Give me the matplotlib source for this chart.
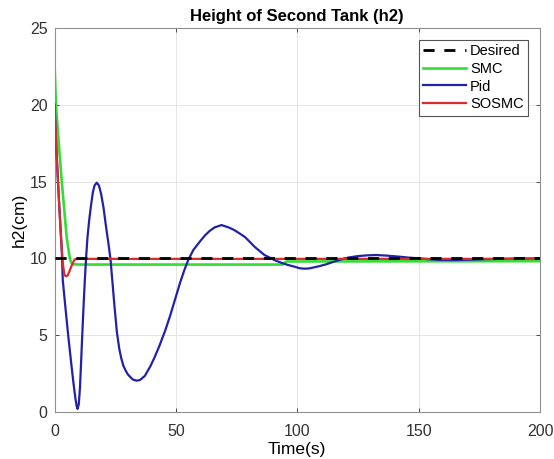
import matplotlib
matplotlib.use("Agg")
import matplotlib.pyplot as plt

# ---- data ----
t_des = [0, 200]
h_des = [10, 10]

t_smc = [0, 0.2, 0.4, 0.6, 1, 2, 3, 4, 5, 6, 6.5, 7, 7.5, 10, 94, 95.5, 200]
h_smc = [22.7, 21.8, 20.9, 20.0, 19.1, 17.0, 15.0, 13.2, 11.4, 10.3, 9.9, 9.7, 9.62, 9.6, 9.6, 9.8, 9.82]

t_pid = [0, 0.5, 1, 1.5, 2, 2.5, 3, 3.4, 4.5, 5.7, 6.8, 7.8, 8.6, 9.1, 9.5, 10, 10.5, 11, 11.4,
         12, 12.5, 13, 13.6, 14.3, 15, 15.8, 16.5, 17.4, 18.3, 19.2, 20.2, 21.2, 22.2, 23.1,
         23.9, 24.7, 25.7, 26.7, 27.5, 28.4, 29.3, 30.2, 32.2, 33.8, 35.2, 37.2, 39.4, 41.2, 43.2,
         45.6, 47.7, 49.6, 51.7, 53.4, 55.1, 57.2, 59.9, 62, 64, 66, 68.8, 72, 74, 76, 78.3,
         80, 82.4, 84.5, 86.5, 89.3, 91, 93.4, 96, 98.9, 101, 103, 105, 107, 109.2, 112, 115,
         117.5, 119.5, 121.6, 125, 129, 132.6, 137, 142.2, 146, 150.5, 154, 158.7, 165, 172,
         180, 190, 200]
h_pid = [20, 18.2, 16.4, 14.8, 13.3, 11.9, 10.5, 8.6, 6.8, 4.9, 3.3, 1.9, 0.9, 0.4, 0.2, 0.5,
         1.6, 3.4, 4.9, 7.0, 8.6, 10.0, 11.4, 12.5, 13.4, 14.3, 14.75, 14.93, 14.75, 14.2, 13.3,
         12.1, 11.0, 9.9, 8.4, 6.9, 5.2, 4.1, 3.5, 3.0, 2.7, 2.45, 2.12, 2.04, 2.08, 2.35, 2.95,
         3.55, 4.3, 5.3, 6.3, 7.3, 8.4, 9.2, 9.9, 10.55, 11.1, 11.5, 11.8, 12.02, 12.17, 12.0,
         11.85, 11.65, 11.41, 11.15, 10.76, 10.48, 10.22, 10.0, 9.86, 9.72, 9.58, 9.46, 9.36,
         9.33, 9.35, 9.42, 9.5, 9.62, 9.78, 9.9, 10.0, 10.07, 10.15, 10.2, 10.22, 10.18, 10.11,
         10.05, 10.0, 9.95, 9.9, 9.89, 9.92, 9.96, 9.99, 10.0]

t_sosmc = [0, 0.5, 1, 1.5, 2, 2.5, 3, 3.5, 4, 4.5, 5, 5.5, 6, 7, 8, 8.5, 10, 200]
h_sosmc = [20, 18.2, 16.4, 14.8, 13.3, 11.9, 10.6, 9.6, 9.0, 8.85, 8.85, 8.9, 9.1, 9.5, 9.85,
           9.95, 9.97, 9.97]

x_ticks = [0, 50, 100, 150, 200]
y_ticks = [0, 5, 10, 15, 20, 25]

plt.rcParams['font.family'] = ['Liberation Sans', 'DejaVu Sans']

fig = plt.figure(figsize=(5.54, 4.59), dpi=100)
W, H = 554, 459
ax = fig.add_axes([54.5 / W, 1 - 412 / H, (540 - 54.5) / W, (412 - 28) / H])

ax.plot(t_smc, h_smc, color='#33dd33', lw=1.9, label='SMC', zorder=2)
ax.plot(t_pid, h_pid, color='#2222a8', lw=1.6, label='Pid', zorder=3)
ax.plot(t_sosmc, h_sosmc, color='#dd2a2a', lw=1.6, label='SOSMC', zorder=4)
ax.plot(t_des, h_des, color='black', lw=2.0, ls=(0, (4, 3.5)), label='Desired', zorder=5)

ax.set_xlim(0, 200)
ax.set_ylim(0, 25)
ax.set_xticks(x_ticks)
ax.set_yticks(y_ticks)
ax.tick_params(direction='in', top=True, right=True, labelsize=11.5, colors='#333333',
               length=3, width=0.6)
ax.tick_params(axis='x', pad=9)
ax.tick_params(axis='y', pad=5)
for s in ax.spines.values():
    s.set_color('#909090')
    s.set_linewidth(0.8)
ax.grid(True, color='#e4e4e4', lw=0.7)
ax.set_axisbelow(True)

ax.set_title('Height of Second Tank (h2)', fontsize=12, fontweight='bold', pad=5)
ax.set_xlabel('Time(s)', fontsize=12.5, labelpad=2)
ax.set_ylabel('h2(cm)', fontsize=12.5, labelpad=2)

handles, labels = ax.get_legend_handles_labels()
order = [3, 0, 1, 2]
leg = ax.legend([handles[i] for i in order], [labels[i] for i in order],
                loc='upper right', bbox_to_anchor=(0.9753, 0.969), borderaxespad=0,
                fontsize=10.5, handlelength=2.9, handletextpad=0.3, borderpad=0.3,
                labelspacing=0.25, fancybox=False, framealpha=1, edgecolor='#555555')
leg.get_frame().set_linewidth(0.8)

fig.savefig('out.png', dpi=100)
